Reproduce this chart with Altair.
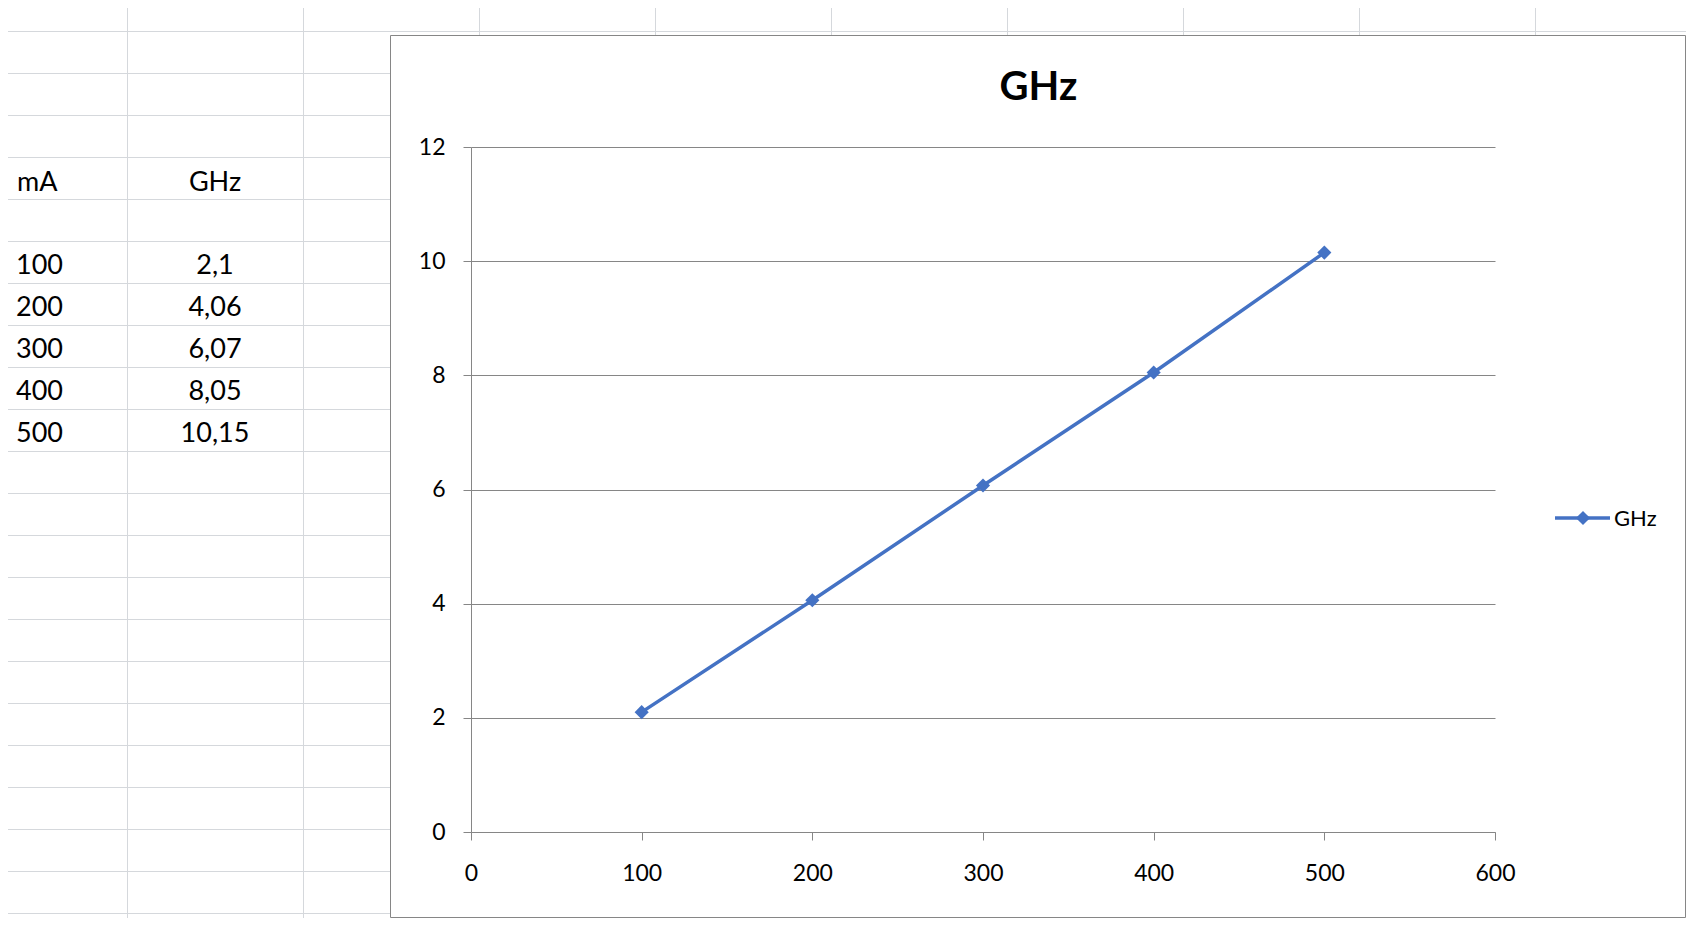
import altair as alt
import pandas as pd

# ---- data ----
mA = [100, 200, 300, 400, 500]
GHz = [2.1, 4.06, 6.07, 8.05, 10.15]
x_ticks = [0, 100, 200, 300, 400, 500, 600]
y_ticks = [0, 2, 4, 6, 8, 10, 12]
col_headers = ["mA", "GHz"]
title_text = "GHz"
series_name = "GHz"


def fmt(v):
    return str(v).replace(".", ",")


# ---- layout (page pixels) ----
W, H = 1024, 685          # plot area
OX, OY = 471, 147         # page position of plot origin
PAD_L, PAD_T = OX - 8, OY - 8
TOTAL_W, TOTAL_H = 1678, 910
FRAME = (391, 35, 1686, 918)

BLUE = "#4472C4"
GRAY = "#868686"
SHEET = "#D5D8DC"
FONT = "Lato"
MARK_SIZE = 200
LINE_W = 3.5


def rx(px):
    return px - OX


def ry(py):
    return py - OY


# spreadsheet grid lines (decoration)
segs = []
for k in range(9):
    x = 127.5 + 176 * k
    if x < FRAME[0]:
        segs.append((x, 8, x, 918))
    else:
        segs.append((x, 8, x, FRAME[1]))
for k in range(22):
    y = 31.5 + 42 * k
    if y < FRAME[1]:
        segs.append((8, y, 1686, y))
    else:
        segs.append((8, y, FRAME[0], y))
seg_df = pd.DataFrame(
    [{"x": rx(a), "y": ry(b), "x2": rx(c), "y2": ry(d)} for a, b, c, d in segs]
)

sheet_grid = alt.Chart(seg_df).mark_rule(color=SHEET, strokeWidth=1).encode(
    x=alt.X("x:Q", scale=None, axis=None),
    x2="x2:Q",
    y=alt.Y("y:Q", scale=None, axis=None),
    y2="y2:Q",
)

# spreadsheet table text
left_rows = [{"x": rx(17), "y": ry(190.5), "t": col_headers[0]}]
center_rows = [{"x": rx(215), "y": ry(190.5), "t": col_headers[1]}]
for i, (a, g) in enumerate(zip(mA, GHz)):
    left_rows.append({"x": rx(16), "y": ry(274 + 41.9 * i), "t": str(a)})
    center_rows.append({"x": rx(215), "y": ry(274 + 41.9 * i), "t": fmt(g)})

table_left = alt.Chart(pd.DataFrame(left_rows)).mark_text(
    align="left", baseline="alphabetic", font=FONT, fontSize=27, color="#000000"
).encode(
    x=alt.X("x:Q", scale=None, axis=None),
    y=alt.Y("y:Q", scale=None, axis=None),
    text="t:N",
)
table_center = alt.Chart(pd.DataFrame(center_rows)).mark_text(
    align="center", baseline="alphabetic", font=FONT, fontSize=27, color="#000000"
).encode(
    x=alt.X("x:Q", scale=None, axis=None),
    y=alt.Y("y:Q", scale=None, axis=None),
    text="t:N",
)

one = pd.DataFrame({"k": [0]})

frame = alt.Chart(one).mark_rect(fillOpacity=0, stroke=GRAY, strokeWidth=1).encode(
    x=alt.value(rx(FRAME[0] - 0.5)),
    x2=alt.value(rx(FRAME[2] - 0.5)),
    y=alt.value(ry(FRAME[1] + 0.5)),
    y2=alt.value(ry(FRAME[3] - 0.5)),
)

df = pd.DataFrame({"mA": mA, "GHz": GHz})

x_enc = alt.X(
    "mA:Q",
    scale=alt.Scale(domain=[0, 600], nice=False, zero=True),
    axis=alt.Axis(
        values=x_ticks, title=None, grid=False, domainColor=GRAY, tickColor=GRAY,
        tickSize=8, labelFont=FONT, labelFontSize=23, labelColor="#000000",
        labelPadding=22, labelFlush=False, labelOverlap=False, format="d",
    ),
)
y_enc = alt.Y(
    "GHz:Q",
    scale=alt.Scale(domain=[0, 12], nice=False, zero=True),
    axis=alt.Axis(
        values=y_ticks, title=None, grid=True, gridColor=GRAY, gridWidth=1,
        domainColor=GRAY, tickColor=GRAY, tickSize=8, labelFont=FONT,
        labelFontSize=23, labelColor="#000000", labelPadding=18,
        labelFlush=False, labelOverlap=False, format="d",
    ),
)

line = alt.Chart(df).mark_line(color=BLUE, strokeWidth=LINE_W).encode(x=x_enc, y=y_enc)
pts = alt.Chart(df).mark_point(
    shape="diamond", filled=True, size=MARK_SIZE, color=BLUE, opacity=1
).encode(x="mA:Q", y="GHz:Q")

title = alt.Chart(one).mark_text(
    align="center", baseline="alphabetic", font=FONT, fontSize=40,
    fontWeight="bold", color="#000000",
).encode(x=alt.value(rx(1038.5)), y=alt.value(ry(100)), text=alt.value(title_text))

leg_y = ry(518)
leg_line = alt.Chart(one).mark_rule(color=BLUE, strokeWidth=LINE_W).encode(
    x=alt.value(rx(1555)), x2=alt.value(rx(1610)), y=alt.value(leg_y)
)
leg_pt = alt.Chart(one).mark_point(
    shape="diamond", filled=True, size=MARK_SIZE, color=BLUE, opacity=1
).encode(x=alt.value(rx(1583)), y=alt.value(leg_y))
leg_txt = alt.Chart(one).mark_text(
    align="left", baseline="middle", font=FONT, fontSize=22, color="#000000"
).encode(x=alt.value(rx(1614)), y=alt.value(leg_y + 1), text=alt.value(series_name))

chart = alt.layer(
    sheet_grid, table_left, table_center, frame, line, pts, title,
    leg_line, leg_pt, leg_txt,
).properties(
    width=W,
    height=H,
    autosize=alt.AutoSizeParams(type="none"),
    padding={"left": PAD_L, "top": PAD_T,
             "right": TOTAL_W - PAD_L - W, "bottom": TOTAL_H - PAD_T - H},
    background="#FFFFFF",
).configure_view(strokeWidth=0)

chart.save("out.html", embed_options={"renderer": "svg", "actions": False})
